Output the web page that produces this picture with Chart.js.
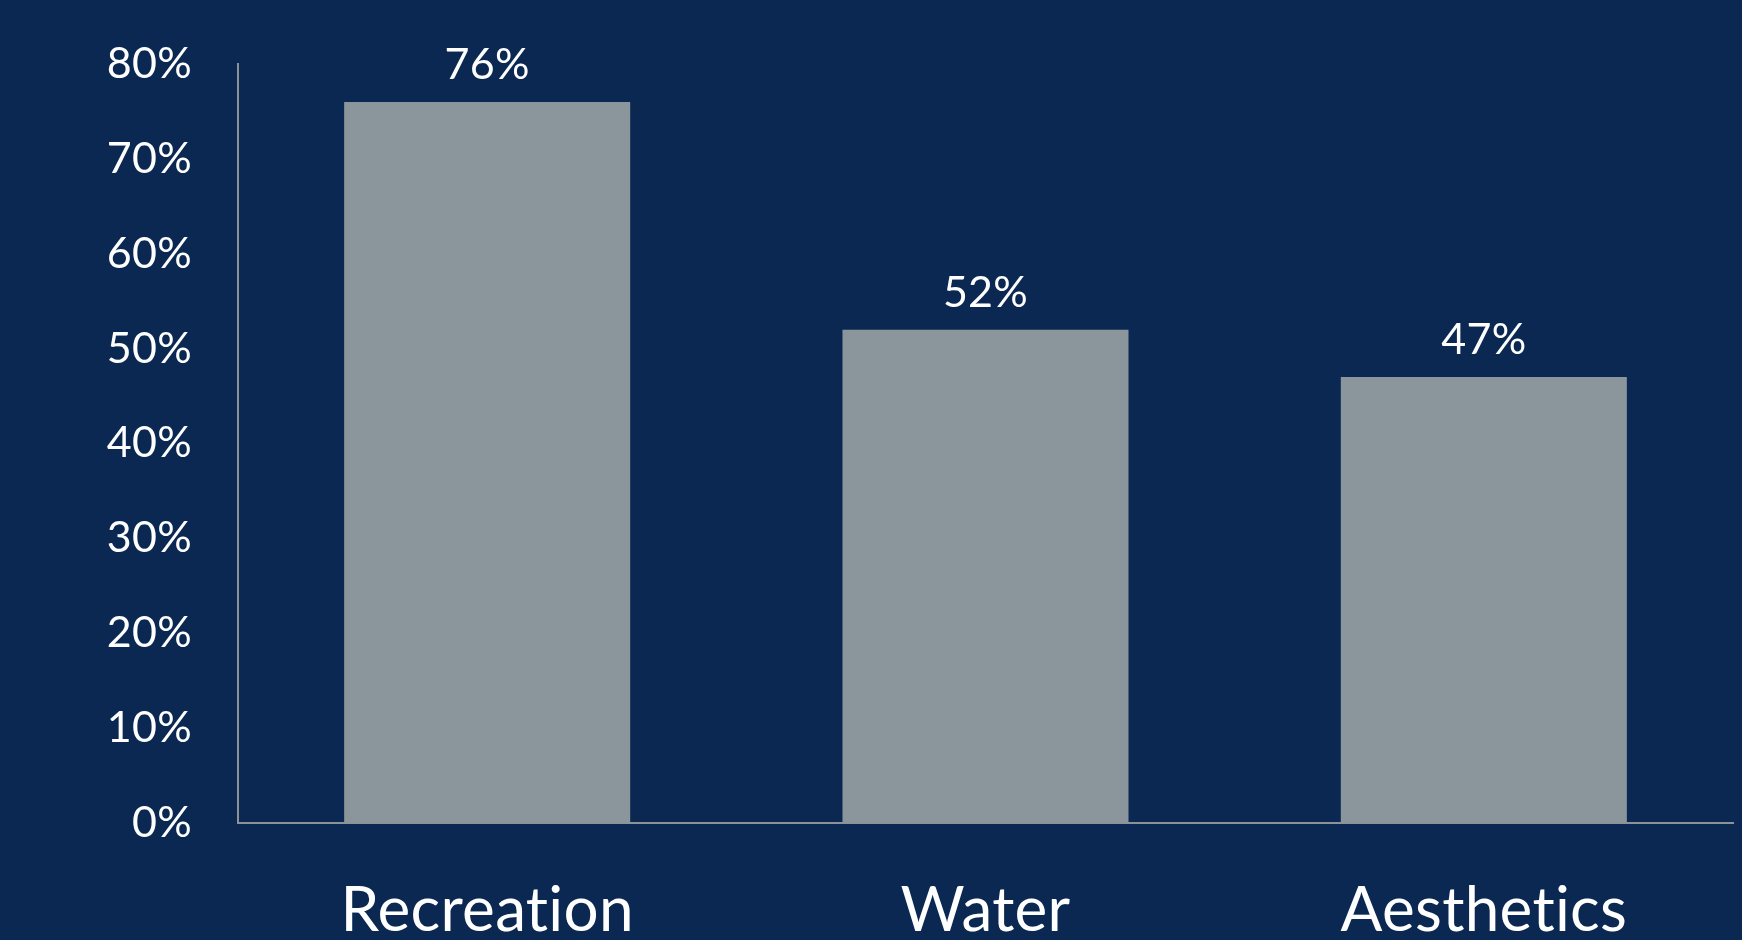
<!DOCTYPE html>
<html>
<head>
<meta charset="utf-8">
<script src="https://cdn.jsdelivr.net/npm/chart.js@4.4.0/dist/chart.umd.min.js"></script>
<style>
  html, body { margin: 0; padding: 0; background: #0a2852; }
  #wrap { width: 1742px; height: 940px; }
</style>
</head>
<body>
<div id="wrap"><canvas id="chart" width="1742" height="940"></canvas></div>
<script>
// values
const categories = ["Recreation", "Water", "Aesthetics"];
const shares = [76, 52, 47];
const yTicks = [0, 10, 20, 30, 40, 50, 60, 70, 80];

const FONT = "Lato, 'Open Sans', sans-serif";

// a tiny letter spacing keeps Lato from joining "ti" into a ligature
const noLigatures = {
  id: 'noLigatures',
  beforeDraw(chart) { chart.ctx.letterSpacing = '0.3px'; }
};

// draws the % labels above each bar
const barLabels = {
  id: 'barLabels',
  afterDatasetsDraw(chart) {
    const ctx = chart.ctx;
    const meta = chart.getDatasetMeta(0);
    ctx.save();
    ctx.fillStyle = '#ffffff';
    ctx.font = '43px ' + FONT;
    ctx.textAlign = 'center';
    ctx.textBaseline = 'bottom';
    meta.data.forEach((bar, i) => {
      ctx.fillText(shares[i] + '%', bar.x, bar.y - 15);
    });
    ctx.restore();
  }
};

new Chart(document.getElementById('chart'), {
  type: 'bar',
  data: {
    labels: categories,
    datasets: [{
      data: shares,
      backgroundColor: '#8a969c',
      borderWidth: 0,
      categoryPercentage: 1,
      barPercentage: 0.574
    }]
  },
  options: {
    responsive: false,
    animation: false,
    layout: { padding: { top: 64, right: 9, left: 0, bottom: 0 } },
    plugins: { legend: { display: false }, tooltip: { enabled: false } },
    scales: {
      x: {
        grid: { display: false, drawTicks: false },
        border: { display: true, color: '#8c9398', width: 2 },
        ticks: { color: '#ffffff', font: { family: FONT, size: 62 }, padding: 51, maxRotation: 0 },
        afterFit(scale) { scale.height = 117; }
      },
      y: {
        min: 0,
        max: 80,
        afterBuildTicks(scale) { scale.ticks = yTicks.map(v => ({ value: v })); },
        grid: { display: false, drawTicks: false },
        border: { display: true, color: '#8c9398', width: 2 },
        ticks: {
          color: '#ffffff',
          font: { family: FONT, size: 43, lineHeight: 1 },
          padding: 46,
          callback: v => v + '%'
        },
        afterFit(scale) { scale.width = 238; scale.paddingTop = 0; scale.paddingBottom = 0; }
      }
    }
  },
  plugins: [noLigatures, barLabels]
});
</script>
</body>
</html>
